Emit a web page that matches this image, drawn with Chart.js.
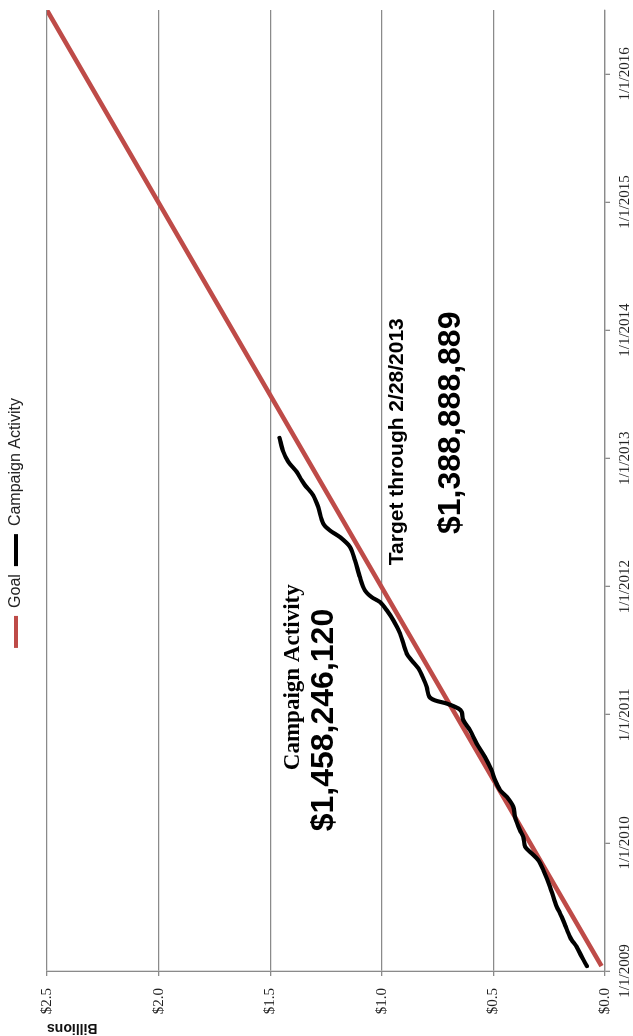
<!DOCTYPE html>
<html>
<head>
<meta charset="utf-8">
<title>Campaign Activity vs Goal</title>
<script src="https://cdn.jsdelivr.net/npm/chart.js@4.4.1/dist/chart.umd.min.js"></script>
<style>
  html, body { margin:0; padding:0; background:#fff; overflow:hidden; }
  body { width:633px; height:1036px; position:relative; }
  /* chart is laid out landscape, then turned a quarter turn to the left */
  #wrap { position:absolute; left:0; top:0; width:1036px; height:633px;
          transform-origin:0 0; transform:translateY(1036px) rotate(-90deg); }
</style>
</head>
<body>
<div id="wrap"><canvas id="chart"></canvas></div>
<script>
// Goal: straight line toward $2.5B, passing the 2/28/2013 target
const goalDates  = ['2009-01-15', '2013-02-28', '2016-06-30'];
const goalValues = [0.016, 1.388888889, 2.5];

// Campaign activity, cumulative (billions)
const activityDates = [
  '2009-01-15','2009-02-10','2009-03-11','2009-03-30','2009-04-08','2009-05-12','2009-06-04','2009-06-15',
  '2009-07-03','2009-08-29','2009-10-15','2009-11-13','2009-12-02','2009-12-21','2010-01-18','2010-02-06',
  '2010-03-16','2010-04-14','2010-05-12','2010-05-31','2010-06-29','2010-07-27','2010-09-03','2010-10-11',
  '2010-11-18','2010-12-17','2011-01-09','2011-01-19','2011-02-02','2011-02-11','2011-02-21','2011-03-21',
  '2011-04-14','2011-05-13','2011-06-05','2011-06-24','2011-08-20','2011-09-27','2011-10-26','2011-11-18',
  '2011-12-02','2011-12-21','2012-01-28','2012-03-16','2012-04-23','2012-05-21','2012-06-09','2012-06-28',
  '2012-08-15','2012-09-17','2012-10-16','2012-10-30','2012-11-23','2012-12-22','2013-01-19','2013-02-28'
];
const activityValues = [
  0.081,0.104,0.127,0.149,0.157,0.179,0.194,0.202,
  0.216,0.246,0.276,0.299,0.328,0.358,0.366,0.381,
  0.403,0.411,0.440,0.470,0.493,0.508,0.538,0.575,
  0.605,0.635,0.642,0.657,0.709,0.762,0.787,0.799,
  0.814,0.836,0.866,0.888,0.918,0.948,0.978,1.008,
  1.045,1.075,1.098,1.120,1.142,1.187,1.232,1.262,
  1.285,1.307,1.344,1.359,1.381,1.419,1.441,1.458246120
];

const yearTicks  = [2009, 2010, 2011, 2012, 2013, 2014, 2015, 2016];
const valueTicks = [0, 0.5, 1.0, 1.5, 2.0, 2.5];
const axisStart = '2009-01-01';
const axisEnd   = '2016-07-01';

const SERIF = '"Liberation Serif", "Times New Roman", serif';
const SANS  = '"Liberation Sans", Arial, sans-serif';
const GRID  = '#8a8a8a';

function usDate(ms){ const d = new Date(ms); return `${d.getUTCMonth()+1}/${d.getUTCDate()}/${d.getUTCFullYear()}`; }
function money(v){ return '$' + Math.round(v * 1e9).toLocaleString('en-US'); }
function points(dates, vals){ return dates.map((d, i) => ({ x: Date.parse(d), y: vals[i] })); }

const last = activityValues.length - 1;
// text boxes, anchored at (date, billions)
const notes = [
  { text: 'Campaign Activity', at: '2011-04-18', level: 1.398, font: `bold 23px ${SERIF}` },
  { text: money(activityValues[last]), at: '2010-12-17', level: 1.257, font: `bold 32px ${SANS}` },
  { text: 'Target through ' + usDate(Date.parse(goalDates[1])), at: '2013-02-17', level: 0.930, font: `bold 21px ${SANS}` },
  { text: money(goalValues[1]), at: '2013-04-12', level: 0.690, font: `bold 32px ${SANS}` }
];

const noteLayer = {
  id: 'notes',
  afterDatasetsDraw(chart){
    const { ctx, scales: { x, y } } = chart;
    ctx.save();
    ctx.fillStyle = '#000';
    ctx.textAlign = 'center';
    ctx.textBaseline = 'middle';
    notes.forEach(n => {
      ctx.font = n.font;
      ctx.fillText(n.text, x.getPixelForValue(Date.parse(n.at)), y.getPixelForValue(n.level));
    });
    ctx.restore();
  }
};

// fixed room between legend and plot
const legendRoom = {
  id: 'legendRoom',
  beforeInit(chart){
    const fit = chart.legend.fit;
    chart.legend.fit = function(){ fit.call(this); this.height = 47; };
  }
};

new Chart(document.getElementById('chart'), {
  type: 'line',
  data: {
    datasets: [
      { label: 'Goal', data: points(goalDates, goalValues), borderColor: '#be4b48', backgroundColor: '#be4b48',
        borderWidth: 4.5, pointRadius: 0, tension: 0, order: 2 },
      { label: 'Campaign Activity', data: points(activityDates, activityValues), borderColor: '#000', backgroundColor: '#000',
        borderWidth: 4.2, pointRadius: 0, tension: 0.3, borderJoinStyle: 'round', borderCapStyle: 'round', order: 1 }
    ]
  },
  options: {
    responsive: true,
    maintainAspectRatio: false,
    animation: false,
    layout: { padding: { left: 0, right: 10, top: 0, bottom: 0 } },
    plugins: {
      tooltip: { enabled: false },
      legend: {
        position: 'top',
        labels: {
          boxWidth: 32, boxHeight: 4, padding: 8, color: '#222',
          font: { family: SANS, size: 16 },
          generateLabels(chart){
            return chart.data.datasets.map((ds, i) => ({
              text: ds.label, fillStyle: ds.borderColor, strokeStyle: ds.borderColor,
              lineWidth: 0, hidden: false, datasetIndex: i, fontColor: '#222'
            }));
          }
        }
      }
    },
    scales: {
      x: {
        type: 'linear',
        min: Date.parse(axisStart),
        max: Date.parse(axisEnd),
        afterBuildTicks(scale){ scale.ticks = yearTicks.map(yr => ({ value: Date.UTC(yr, 0, 1) })); },
        afterFit(scale){ scale.height = 28; },
        ticks: { callback: v => usDate(v), color: '#222', padding: 6, maxRotation: 0, autoSkip: false,
                 font: { family: SERIF, size: 15 } },
        grid: { drawOnChartArea: false, drawTicks: true, tickLength: 5, color: GRID, lineWidth: 1.3 },
        border: { display: true, color: GRID, width: 1.3 }
      },
      y: {
        min: 0,
        max: 2.5,
        afterBuildTicks(scale){ scale.ticks = valueTicks.map(v => ({ value: v })); },
        afterFit(scale){ scale.width = 65; },
        ticks: { callback: v => '$' + Number(v).toFixed(1), color: '#222', padding: 12,
                 font: { family: SERIF, size: 15 } },
        grid: { color: GRID, lineWidth: 1.3, tickLength: 5 },
        border: { display: true, color: GRID, width: 1.3 },
        title: { display: true, text: 'Billions', align: 'end', color: '#111', padding: 0,
                 font: { family: SANS, size: 14, weight: 'bold' } }
      }
    }
  },
  plugins: [noteLayer, legendRoom]
});
</script>
</body>
</html>
